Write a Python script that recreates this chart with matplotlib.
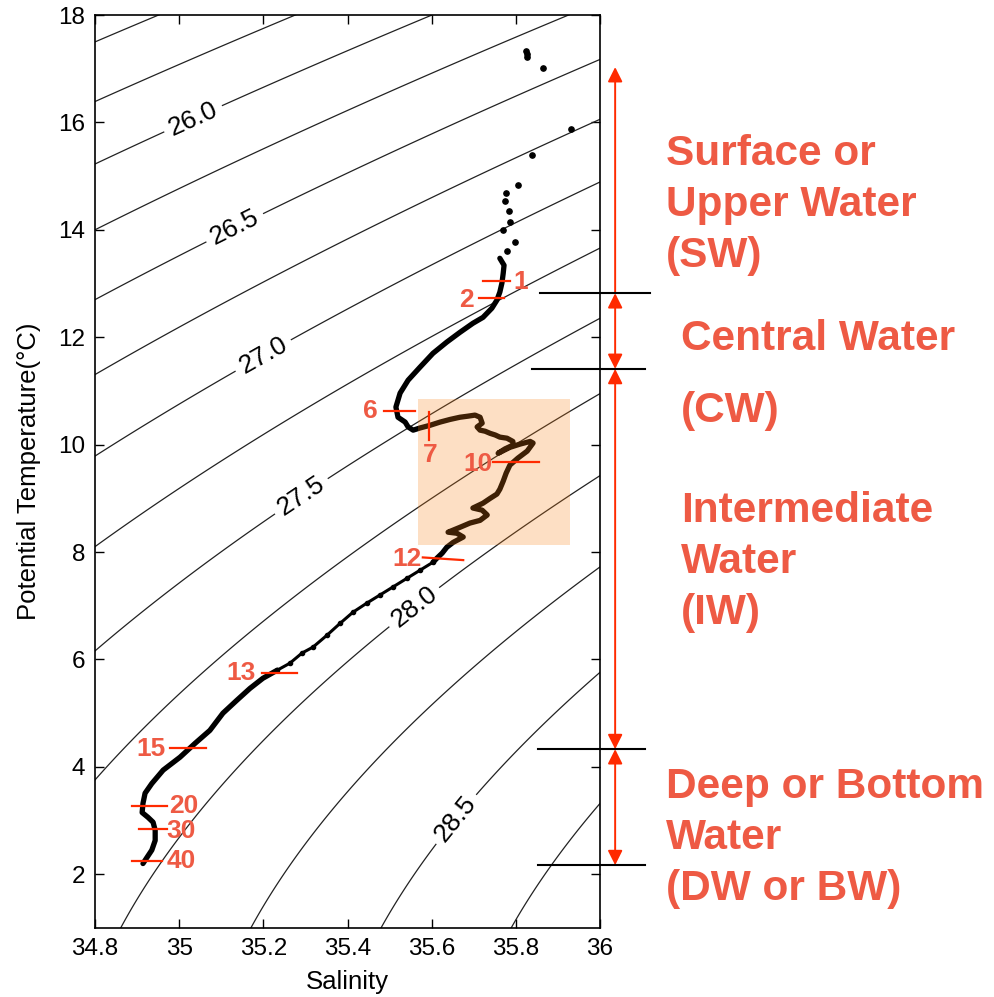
import numpy as np
import matplotlib
matplotlib.use('Agg')
import matplotlib.pyplot as plt
from matplotlib.patches import Rectangle

plt.rcParams['font.family'] = ['Liberation Sans', 'DejaVu Sans']

# sparse surface samples
surf_sal = [35.824, 35.827, 35.827, 35.865, 35.931, 35.838, 35.805, 35.777, 35.774, 35.784, 35.786, 35.770, 35.798, 35.779]
surf_temp = [17.33, 17.27, 17.22, 17.01, 15.88, 15.39, 14.83, 14.68, 14.53, 14.35, 14.14, 13.99, 13.77, 13.60]

# continuous profile, upper part (thermocline + intrusions)
sal_upper = [35.762, 35.772, 35.770, 35.767, 35.762, 35.755, 35.743, 35.722, 35.698, 35.667,
             35.636, 35.603, 35.572, 35.544, 35.525, 35.515, 35.520, 35.537, 35.544, 35.556,
             35.572, 35.596, 35.620, 35.644, 35.667, 35.686, 35.703, 35.715, 35.720, 35.708,
             35.715, 35.727, 35.739, 35.751, 35.762, 35.779, 35.793, 35.793, 35.774, 35.758,
             35.786, 35.810, 35.834, 35.841, 35.827, 35.805, 35.786, 35.777, 35.770, 35.762,
             35.755, 35.739, 35.722, 35.698, 35.720, 35.732, 35.715, 35.691, 35.667, 35.639,
             35.660, 35.675, 35.651, 35.636, 35.625, 35.613, 35.603]
temp_upper = [13.47, 13.34, 13.19, 13.01, 12.84, 12.69, 12.54, 12.37, 12.26, 12.09,
              11.91, 11.70, 11.44, 11.20, 10.96, 10.70, 10.51, 10.42, 10.33, 10.27,
              10.31, 10.36, 10.42, 10.47, 10.51, 10.53, 10.55, 10.51, 10.40, 10.33,
              10.27, 10.25, 10.21, 10.18, 10.14, 10.12, 10.06, 9.99, 9.92, 9.84,
              9.95, 10.01, 10.06, 10.03, 9.88, 9.75, 9.62, 9.47, 9.32, 9.17,
              9.08, 9.00, 8.91, 8.82, 8.78, 8.69, 8.59, 8.54, 8.46, 8.37,
              8.35, 8.28, 8.18, 8.09, 7.98, 7.89, 7.81]

# sparsely sampled stretch between 12 and 13
sal_mid = [35.603, 35.572, 35.541, 35.508, 35.477, 35.446, 35.413, 35.382, 35.351, 35.318, 35.292, 35.263, 35.233]
temp_mid = [7.81, 7.66, 7.51, 7.35, 7.20, 7.05, 6.88, 6.67, 6.45, 6.23, 6.12, 5.93, 5.80]

# deep part
sal_lower = [35.233, 35.199, 35.168, 35.137, 35.104, 35.073, 35.038, 35.002, 34.962, 34.935,
             34.919, 34.914, 34.912, 34.926, 34.938, 34.943, 34.943, 34.935, 34.924, 34.914]
temp_lower = [5.80, 5.65, 5.46, 5.24, 5.00, 4.68, 4.44, 4.18, 3.94, 3.69,
              3.51, 3.32, 3.15, 3.06, 2.97, 2.82, 2.63, 2.45, 2.32, 2.20]

# depth markers (hundreds of m)
mark_names = ['1', '2', '6', '7', '10', '12', '13', '15', '20', '30', '40']
mark_s0 = [35.722, 35.713, 35.487, 35.594, 35.746, 35.579, 35.197, 34.978, 34.888, 34.905, 34.888]
mark_s1 = [35.786, 35.772, 35.560, 35.594, 35.855, 35.675, 35.280, 35.064, 34.971, 34.971, 34.959]
mark_t0 = [13.04, 12.73, 10.62, 10.60, 9.67, 7.90, 5.74, 4.35, 3.27, 2.84, 2.24]
mark_t1 = [13.04, 12.73, 10.62, 10.08, 9.67, 7.85, 5.74, 4.35, 3.27, 2.84, 2.24]
mark_text_s = [35.812, 35.682, 35.454, 35.596, 35.710, 35.541, 35.147, 34.933, 35.011, 35.004, 35.004]
mark_text_t = [13.03, 12.69, 10.62, 9.80, 9.64, 7.87, 5.74, 4.33, 3.27, 2.80, 2.24]

# water mass boundaries
bound_temp = [12.82, 11.41, 4.33, 2.17]
bound_s0 = [35.857, 35.838, 35.853, 35.853]
bound_s1 = [36.119, 36.107, 36.107, 36.107]
sw_top = 17.03
arrow_sal = 36.036

box_sal = (35.567, 35.928)
box_temp = (8.13, 10.85)

label_levels = [26.0, 26.5, 27.0, 27.5, 28.0, 28.5]
plain_levels = [25.0, 25.25, 25.5, 25.75, 26.25, 26.75, 27.25, 27.75, 28.25, 28.75, 29.0]
label_pos = [(35.037, 16.0), (35.137, 13.96), (35.199, 11.67), (35.292, 9.02), (35.555, 7.01), (35.662, 3.0)]


def sigma0(s, t):
    # UNESCO surface density, salinity scaled to absolute salinity
    s = s * 35.16504 / 35.0
    rw = (999.842594 + 6.793952e-2 * t - 9.095290e-3 * t**2 + 1.001685e-4 * t**3
          - 1.120083e-6 * t**4 + 6.536332e-9 * t**5)
    a = 0.824493 - 4.0899e-3 * t + 7.6438e-5 * t**2 - 8.2467e-7 * t**3 + 5.3875e-9 * t**4
    b = -5.72466e-3 + 1.0227e-4 * t - 1.6546e-6 * t**2
    rho = rw + a * s + b * s**1.5 + 4.8314e-4 * s**2
    return rho - 1000.0 + 0.012 * (t - 6.5)


red = '#FF2A00'
salmon = '#EE5A44'

fig = plt.figure(figsize=(9.95, 9.97), dpi=100)
ax = fig.add_axes([95 / 995, 1 - 928 / 997, 505 / 995, 913 / 997])
ax.set_xlim(34.8, 36)
ax.set_ylim(1, 18)

sg, tg = np.meshgrid(np.linspace(34.7, 36.2, 300), np.linspace(0.5, 18.5, 300))
dens = sigma0(sg, tg)
ax.contour(sg, tg, dens, levels=plain_levels, colors='#222222', linewidths=0.9)
cs = ax.contour(sg, tg, dens, levels=label_levels, colors='#222222', linewidths=0.9)
labels = ax.clabel(cs, manual=label_pos, inline=True, inline_spacing=6, fmt='%.1f', fontsize=19)
for lb in labels:
    lb.set_color('black')

ax.plot(surf_sal, surf_temp, 'o', color='black', ms=3.8, zorder=3)
ax.plot(sal_upper, temp_upper, '-', color='black', lw=3.8, solid_capstyle='round', zorder=3)
ax.plot(sal_mid, temp_mid, 'o-', color='black', lw=2.2, ms=3, zorder=3)
ax.plot(sal_lower, temp_lower, '-', color='black', lw=3.8, solid_capstyle='round', zorder=3)

ax.add_patch(Rectangle((box_sal[0], box_temp[0]), box_sal[1] - box_sal[0], box_temp[1] - box_temp[0],
                       facecolor='#F88014', alpha=0.25, edgecolor='none', zorder=4))

for i, name in enumerate(mark_names):
    ax.plot([mark_s0[i], mark_s1[i]], [mark_t0[i], mark_t1[i]], color=red, lw=1.6, zorder=5)
    ax.text(mark_text_s[i], mark_text_t[i], name, color=salmon, fontsize=19, fontweight='bold',
            ha='center', va='center', zorder=6)

for t, s0, s1 in zip(bound_temp, bound_s0, bound_s1):
    ax.plot([s0, s1], [t, t], color='black', lw=1.5, clip_on=False, zorder=5)

arr = dict(color=red, lw=1.4, mutation_scale=22, shrinkA=0, shrinkB=0)
ax.annotate('', xy=(arrow_sal, sw_top), xytext=(arrow_sal, bound_temp[0]),
            arrowprops=dict(arrowstyle='-|>', **arr), annotation_clip=False)
for t_top, t_bot in zip(bound_temp[:-1], bound_temp[1:]):
    ax.annotate('', xy=(arrow_sal, t_top), xytext=(arrow_sal, t_bot),
                arrowprops=dict(arrowstyle='<|-|>', **arr), annotation_clip=False)

ax.set_xticks([34.8, 35, 35.2, 35.4, 35.6, 35.8, 36])
ax.set_xticklabels(['34.8', '35', '35.2', '35.4', '35.6', '35.8', '36'])
ax.set_yticks(range(2, 19, 2))
ax.tick_params(direction='in', top=True, right=True, length=6.5, width=1, labelsize=17.5, pad=7)
for tk in ax.yaxis.get_major_ticks():
    tk.tick2line.set_color('#888888')
for sp in ax.spines.values():
    sp.set_linewidth(1.2)
ax.set_xlabel('Salinity', fontsize=18.5)
ax.set_ylabel('Potential Temperature(°C)', fontsize=18.5)
ax.xaxis.set_label_coords(0.5, -0.046)
ax.yaxis.set_label_coords(-0.107, 0.5)

# water mass names, each line placed at its baseline (pixels)
blocks = [(['Surface or', 'Upper Water', '(SW)'], 666, 165),
          (['Central Water'], 681, 350),
          (['(CW)'], 681, 422),
          (['Intermediate', 'Water', '(IW)'], 681, 522),
          (['Deep or Bottom', 'Water', '(DW or BW)'], 666, 798)]
for lines, x, y0 in blocks:
    for k, line in enumerate(lines):
        fig.text(x / 995, 1 - (y0 + 51 * k) / 997, line, color=salmon, fontsize=30.5,
                 fontweight='bold', ha='left', va='baseline')

fig.savefig('out.png', dpi=100)
